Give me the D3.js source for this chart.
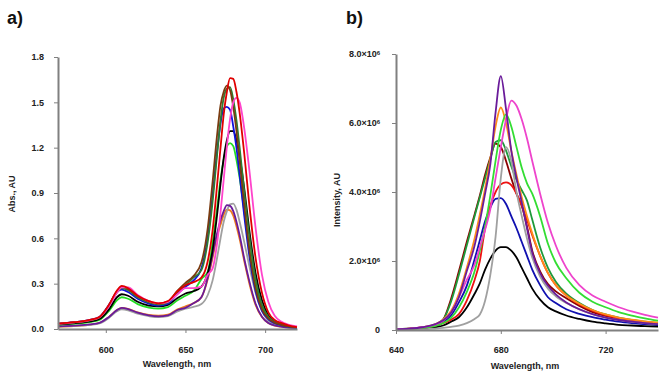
<!DOCTYPE html>
<html>
<head>
<meta charset="utf-8">
<script src="https://cdnjs.cloudflare.com/ajax/libs/d3/7.8.5/d3.min.js"></script>
<style>
  body { margin: 0; background: #fff; }
  svg { font-family: "Liberation Sans", Arial, sans-serif; }
  .axis text { font-size: 9px; font-weight: bold; fill: #222; }
  .axis path, .axis line { stroke: #808080; }
  .axis path { stroke-width: 2; }
  .title { font-size: 9px; font-weight: bold; fill: #222; }
  .panel { font-size: 18px; font-weight: bold; fill: #111; }
</style>
</head>
<body>
<svg id="chart" width="662" height="375"></svg>
<script>
// ---- panel a) absorption spectra ----
var wlAbs = [570, 580, 590, 596, 602, 607, 610, 614, 620, 627, 633, 639, 645, 650, 655, 660, 664, 667, 670, 672, 674, 676, 678, 680, 682, 684, 687, 690, 694, 698, 702, 706, 710, 715, 720];
var absRed    = [.035, .045, .06, .08, .16, .255, .285, .27, .22, .185, .17, .185, .25, .29, .31, .34, .45, .65, .97, 1.2, 1.42, 1.57, 1.66, 1.655, 1.57, 1.43, 1.15, .83, .47, .24, .11, .06, .04, .023, .013];
var absPink   = [.034, .044, .059, .078, .15, .24, .275, .275, .225, .185, .17, .18, .23, .27, .27, .28, .36, .40, .58, .77, .99, 1.21, 1.39, 1.50, 1.53, 1.50, 1.32, 1.06, .67, .36, .18, .087, .05, .028, .017];
var absDkGreen= [.033, .043, .057, .076, .152, .242, .27, .257, .21, .176, .162, .176, .245, .29, .34, .39, .58, .84, 1.17, 1.38, 1.53, 1.59, 1.60, 1.52, 1.38, 1.20, .90, .62, .33, .16, .08, .047, .031, .018, .012];
var absBrown  = [.034, .044, .059, .078, .157, .25, .28, .265, .216, .181, .167, .181, .254, .305, .35, .44, .67, .97, 1.30, 1.48, 1.57, 1.61, 1.58, 1.47, 1.31, 1.11, .81, .53, .27, .13, .07, .042, .028, .017, .011];
var absBlue   = [.035, .045, .06, .08, .16, .245, .26, .245, .2, .168, .155, .168, .235, .28, .32, .40, .61, .88, 1.19, 1.36, 1.46, 1.47, 1.45, 1.34, 1.20, 1.02, .74, .49, .25, .12, .064, .038, .026, .015, .01];
var absBlack  = [.03, .038, .05, .066, .13, .21, .23, .22, .18, .155, .15, .16, .205, .235, .25, .28, .37, .52, .77, .96, 1.13, 1.25, 1.31, 1.31, 1.25, 1.14, .92, .66, .37, .19, .09, .048, .031, .018, .012];
var absGreen  = [.028, .035, .046, .06, .12, .19, .21, .2, .165, .142, .135, .145, .19, .22, .25, .33, .38, .57, .81, .99, 1.12, 1.21, 1.23, 1.21, 1.12, 1.0, .77, .54, .29, .145, .07, .04, .027, .015, .009];
var absPurple = [.018, .023, .03, .04, .08, .125, .14, .132, .108, .09, .083, .09, .126, .14, .17, .21, .34, .49, .64, .72, .78, .82, .815, .78, .71, .62, .46, .32, .167, .081, .04, .024, .016, .009, .006];
var absGray   = [.016, .021, .028, .037, .074, .117, .13, .124, .101, .085, .078, .085, .116, .135, .146, .165, .225, .32, .48, .60, .71, .78, .825, .83, .79, .71, .57, .42, .24, .12, .056, .03, .019, .011, .007];
var absOrange = [.015, .02, .028, .04, .08, .125, .14, .133, .11, .093, .088, .095, .13, .15, .17, .21, .33, .47, .62, .69, .755, .79, .785, .75, .68, .595, .445, .305, .16, .08, .04, .023, .015, .009, .006];
var absTicksX = [600, 650, 700];
var absTicksY = [0, 0.3, 0.6, 0.9, 1.2, 1.5, 1.8];

// ---- panel b) emission spectra (x10^6) ----
var wlEm = [640, 645, 650, 655, 658, 661, 664, 667, 670, 672, 674, 676, 678, 680, 682, 684, 686, 688, 690, 692, 695, 698, 701, 705, 710, 715, 720, 725, 730, 735, 740];
var emBrown   = [.02, .04, .06, .15, .3, .9, 1.7, 2.55, 3.35, 3.9, 4.5, 5.0, 5.4, 5.3, 4.9, 4.4, 3.95, 3.6, 3.0, 2.3, 1.7, 1.33, 1.12, .92, .7, .52, .4, .32, .26, .22, .19];
var emDkGreen = [.02, .04, .06, .15, .3, .82, 1.6, 2.45, 3.3, 3.85, 4.4, 4.95, 5.45, 5.5, 5.2, 4.75, 4.35, 4.05, 3.75, 3.2, 2.4, 1.8, 1.4, 1.05, .78, .58, .45, .36, .29, .24, .2];
var emGreen   = [.01, .03, .06, .12, .2, .35, .65, 1.1, 1.7, 2.3, 3.0, 3.9, 4.9, 5.8, 6.25, 5.9, 5.3, 4.7, 4.25, 3.95, 3.3, 2.5, 1.95, 1.5, 1.08, .82, .66, .52, .42, .34, .27];
var emPurple  = [.02, .04, .08, .17, .28, .5, .95, 1.7, 2.45, 3.15, 3.95, 4.8, 6.3, 7.36, 6.4, 5.2, 4.4, 3.7, 2.95, 2.25, 1.65, 1.28, 1.03, .8, .6, .46, .36, .29, .24, .2, .17];
var emOrange  = [.02, .04, .08, .17, .3, .55, 1.05, 1.8, 2.65, 3.35, 4.1, 4.95, 5.9, 6.45, 6.0, 5.2, 4.5, 3.85, 3.3, 2.8, 2.15, 1.65, 1.3, 1.0, .76, .58, .45, .36, .3, .25, .22];
var emMagenta = [.02, .04, .08, .16, .27, .5, .95, 1.45, 1.9, 2.4, 2.9, 3.5, 4.4, 5.3, 6.1, 6.65, 6.5, 6.1, 5.55, 4.9, 3.95, 3.1, 2.45, 1.8, 1.3, 1.0, .82, .66, .54, .44, .36];
var emGray    = [0, .01, .02, .04, .06, .09, .13, .2, .32, .45, .85, 1.6, 2.7, 4.4, 5.3, 4.9, 4.0, 3.3, 2.65, 2.1, 1.55, 1.2, .98, .78, .6, .46, .36, .29, .24, .2, .17];
var emRed     = [.01, .03, .06, .13, .2, .3, .46, .85, 1.45, 2.0, 2.95, 3.6, 4.0, 4.22, 4.28, 4.2, 3.95, 3.6, 3.2, 2.75, 2.15, 1.65, 1.3, 1.0, .74, .56, .43, .34, .28, .23, .2];
var emBlue    = [.01, .02, .05, .09, .22, .42, .8, 1.28, 2.05, 2.6, 3.15, 3.55, 3.8, 3.82, 3.65, 3.3, 2.95, 2.55, 2.15, 1.75, 1.3, .95, .78, .6, .47, .37, .3, .24, .2, .17, .14];
var emBlack   = [.01, .02, .04, .08, .13, .24, .37, .65, 1.05, 1.35, 1.75, 2.07, 2.3, 2.4, 2.4, 2.3, 2.1, 1.8, 1.5, 1.2, .88, .66, .54, .42, .32, .24, .19, .15, .13, .11, .1];
var emTicksX = [640, 680, 720];
var emTicksY = [0, 2, 4, 6, 8];

var absSeries = [
  {c: "#f07d1e", v: absOrange}, {c: "#a0a0a0", v: absGray}, {c: "#6a1b9a", v: absPurple},
  {c: "#22dd22", v: absGreen}, {c: "#000000", v: absBlack}, {c: "#1010dd", v: absBlue},
  {c: "#2e7d32", v: absDkGreen}, {c: "#7a3b10", v: absBrown}, {c: "#ff44cc", v: absPink},
  {c: "#e00000", v: absRed}
];
var emSeries = [
  {c: "#8b0000", v: emBrown}, {c: "#1e9a3a", v: emDkGreen}, {c: "#1010b0", v: emBlue},
  {c: "#000000", v: emBlack}, {c: "#ee1111", v: emRed}, {c: "#a0a0a0", v: emGray},
  {c: "#ff8c1a", v: emOrange}, {c: "#33dd33", v: emGreen}, {c: "#ee44cc", v: emMagenta},
  {c: "#6a1b9a", v: emPurple}
];

var svg = d3.select("#chart");

// draw one panel
function drawPanel(opt) {
  var x = d3.scaleLinear().domain(opt.xDomain).range([opt.left, opt.right]);
  var y = d3.scaleLinear().domain(opt.yDomain).range([opt.bottom, opt.top]);
  var g = svg.append("g");

  var line = d3.line()
    .x(function(d) { return x(d[0]); })
    .y(function(d) { return y(d[1]); })
    .curve(d3.curveMonotoneX);

  opt.series.forEach(function(s) {
    g.append("path")
      .attr("d", line(opt.wl.map(function(w, i) { return [w, s.v[i]]; })))
      .attr("fill", "none")
      .attr("stroke", s.c)
      .attr("stroke-width", 1.8);
  });

  g.append("g").attr("class", "axis")
    .attr("transform", "translate(0," + opt.bottom + ")")
    .call(d3.axisBottom(x).tickValues(opt.ticksX).tickSize(4).tickSizeOuter(0).tickPadding(opt.xPad));
  var yAxis = g.append("g").attr("class", "axis")
    .attr("transform", "translate(" + opt.left + ",0)")
    .call(d3.axisLeft(y).tickValues(opt.ticksY).tickSize(4).tickSizeOuter(0).tickPadding(opt.yPad).tickFormat(opt.yFormat));
  if (opt.sup) {
    yAxis.selectAll(".tick text").each(function(d) {
      if (d === 0) return;
      var t = d3.select(this);
      t.text(d3.format(".1f")(d) + "\u00d710");
      t.append("tspan").attr("dy", "-0.45em").attr("font-size", "6px").text("6");
    });
  }

  // axis titles
  g.append("text").attr("class", "title")
    .attr("text-anchor", "middle")
    .attr("x", opt.xTitle[0]).attr("y", opt.xTitle[1])
    .text("Wavelength, nm");
  g.append("text").attr("class", "title")
    .attr("text-anchor", "middle")
    .attr("transform", "translate(" + opt.yTitle[0] + "," + opt.yTitle[1] + ")rotate(-90)")
    .text(opt.yLabel);
  g.append("text").attr("class", "panel")
    .attr("x", opt.tag[0]).attr("y", opt.tag[1])
    .text(opt.tagText);
}

drawPanel({
  wl: wlAbs, series: absSeries,
  xDomain: [570, 720], yDomain: [0, 1.8],
  left: 58, right: 297, top: 57, bottom: 329,
  ticksX: absTicksX, ticksY: absTicksY,
  yFormat: d3.format(".1f"), xPad: 14, yPad: 10,
  xTitle: [177, 367], yTitle: [15, 194], yLabel: "Abs., AU",
  tag: [7, 24], tagText: "a)"
});

drawPanel({
  wl: wlEm, series: emSeries,
  xDomain: [640, 740], yDomain: [0, 8],
  left: 396, right: 658, top: 54, bottom: 330,
  ticksX: emTicksX, ticksY: emTicksY,
  yFormat: function(d) { return d === 0 ? "0" : d; }, xPad: 13, yPad: 12, sup: true,
  xTitle: [525, 369], yTitle: [340, 200], yLabel: "Intensity, AU",
  tag: [346, 24], tagText: "b)"
});
</script>
</body>
</html>
